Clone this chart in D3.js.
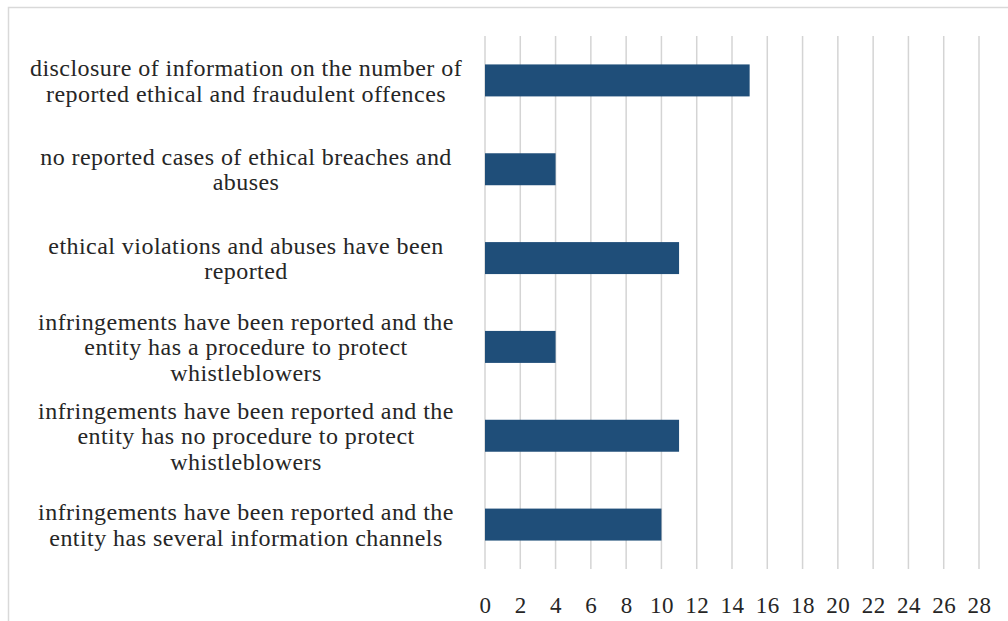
<!DOCTYPE html>
<html>
<head>
<meta charset="utf-8">
<script src="https://cdn.jsdelivr.net/npm/d3@7"></script>
<style>
  body { margin: 0; background: #fff; }
  svg { display: block; }
  text { font-family: "Liberation Serif", "Times New Roman", Times, serif; }
</style>
</head>
<body>
<div id="chart"></div>
<script>
// size of the page
const width = 1008;
const height = 621;
const margin = {top: 36, right: 29, bottom: 52, left: 485};

const chart_width = width - margin.left - margin.right;
const chart_height = height - margin.top - margin.bottom;

// data, top to bottom as shown ("\n" = line break of the label)
const categories = [
  "disclosure of information on the number of\nreported ethical and fraudulent offences",
  "no reported cases of ethical breaches and\nabuses",
  "ethical violations and abuses have been\nreported",
  "infringements have been reported and the\nentity has a procedure to protect\nwhistleblowers",
  "infringements have been reported and the\nentity has no procedure to protect\nwhistleblowers",
  "infringements have been reported and the\nentity has several information channels"
];
const values = [15, 4, 11, 4, 11, 10];
const xTicks = [0, 2, 4, 6, 8, 10, 12, 14, 16, 18, 20, 22, 24, 26, 28];

const data = categories.map((c, i) => ({cat: c, value: values[i]}));

// scales
var x_scale = d3.scaleLinear()
    .domain([0, 28])
    .range([0, chart_width]);

var y_scale = d3.scaleBand()
    .domain(categories)
    .range([0, chart_height])
    .paddingInner(0.64)
    .paddingOuter(0.32);

var root = d3.select("#chart")
    .append("svg")
    .attr("width", width)
    .attr("height", height);

// chart border
root.append("rect")
    .attr("x", 8.5)
    .attr("y", 7.5)
    .attr("width", width)
    .attr("height", height)
    .attr("fill", "none")
    .attr("stroke", "#d9d9d9")
    .attr("stroke-width", 1.5);

var svg = root.append("g")
    .attr("transform", `translate(${margin.left}, ${margin.top})`);

// vertical grid lines
svg.append("g")
    .attr("class", "grid")
    .selectAll("line")
    .data(xTicks)
    .enter()
    .append("line")
    .attr("x1", d => x_scale(d))
    .attr("x2", d => x_scale(d))
    .attr("y1", 0)
    .attr("y2", chart_height)
    .attr("stroke", "#d4d4d4")
    .attr("stroke-width", 1.5);

// bars
svg.selectAll(".bar")
    .data(data)
    .enter()
    .append("rect")
    .attr("class", "bar")
    .attr("x", x_scale(0))
    .attr("y", d => y_scale(d.cat))
    .attr("width", d => x_scale(d.value) - x_scale(0))
    .attr("height", y_scale.bandwidth())
    .attr("fill", "#1f4e79");

// x axis labels (no axis line, no tick marks)
var x_axis = d3.axisBottom(x_scale)
    .tickValues(xTicks)
    .tickSize(0)
    .tickPadding(0);

var xg = svg.append("g")
    .attr("class", "x axis")
    .attr("transform", `translate(0, ${chart_height})`)
    .call(x_axis);
xg.select(".domain").remove();
xg.selectAll("text")
    .attr("dy", 0)
    .attr("y", 44)
    .attr("font-family", null)
    .attr("font-size", 23)
    .attr("letter-spacing", 0.5)
    .attr("fill", "#262626");

// category labels, wrapped and centred
const lineH = 25.5;
var labels = svg.append("g")
    .attr("class", "y labels")
    .selectAll("text")
    .data(categories)
    .enter()
    .append("text")
    .attr("text-anchor", "middle")
    .attr("font-size", 24)
    .attr("letter-spacing", 0.45)
    .attr("fill", "#262626")
    .attr("transform", d => `translate(${246 - margin.left}, ${y_scale(d) + y_scale.bandwidth() / 2})`);

labels.each(function(d) {
  const lines = d.split("\n");
  const t = d3.select(this);
  lines.forEach((ln, i) => {
    t.append("tspan")
      .attr("x", 0)
      .attr("y", (i - (lines.length - 1) / 2) * lineH)
      .attr("dy", "0.35em")
      .text(ln);
  });
});
</script>
</body>
</html>
